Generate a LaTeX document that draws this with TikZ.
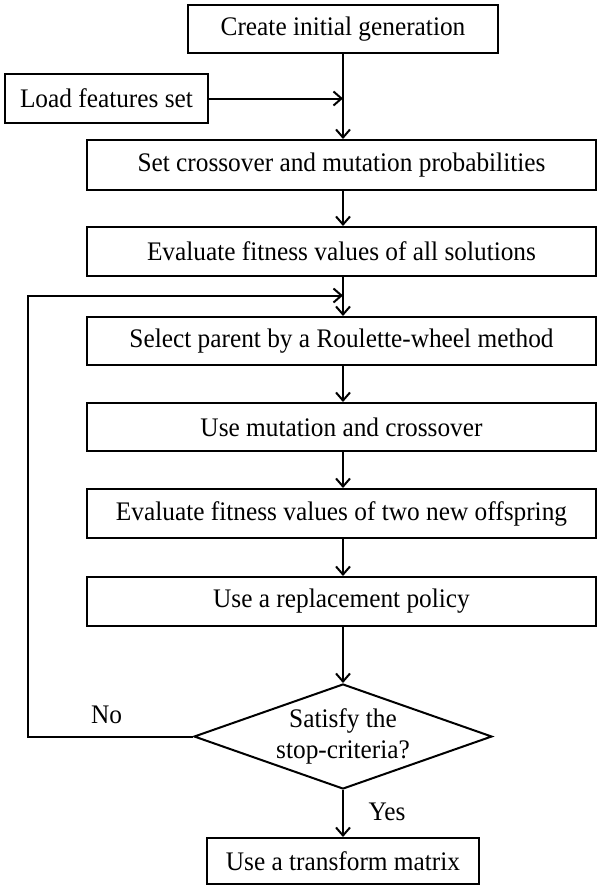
\documentclass[tikz,border=0pt]{standalone}
\usepackage{fontspec}
\setmainfont{Liberation Serif}[FakeStretch=0.945]
\usetikzlibrary{arrows.meta,shapes.geometric}
\begin{document}
\begin{tikzpicture}[x=1pt,y=1pt,
  box/.style={draw, line width=2pt, inner sep=0pt, font=\fontsize{26.8pt}{31pt}\selectfont},
  arr/.style={line width=2pt, line join=miter, -{Straight Barb[length=8pt,width=14pt]}},
  lbl/.style={inner sep=0pt, font=\fontsize{26.8pt}{31pt}\selectfont}]
\useasboundingbox (0,0) rectangle (597,-886);
\node[box, minimum width=310pt, minimum height=48pt] (create) at (343,-29) {Create initial generation};
\node[box, minimum width=203pt, minimum height=49pt] (load) at (106.5,-98.5) {Load features set};
\node[box, minimum width=509pt, minimum height=50pt] (set) at (341.5,-165) {Set crossover and mutation probabilities};
\node[box, minimum width=509pt, minimum height=49pt] (eval) at (341.5,-251.5) {Evaluate fitness values of all solutions};
\node[box, minimum width=509pt, minimum height=48pt] (select) at (341.5,-341) {Select parent by a Roulette-wheel method};
\node[box, minimum width=509pt, minimum height=48pt] (mut) at (341.5,-427) {Use mutation and crossover};
\node[box, minimum width=509pt, minimum height=49pt] (eval2) at (341.5,-513.5) {Evaluate fitness values of two new offspring};
\node[box, minimum width=509pt, minimum height=49pt] (repl) at (341.5,-601.5) {Use a replacement policy};
\node[diamond, draw, line width=2pt, inner sep=0pt, aspect=2.84, minimum width=298pt, minimum height=105pt, align=center, font=\fontsize{26.8pt}{31pt}\selectfont] (stop) at (343,-736.5) {Satisfy the\\stop-criteria?};
\node[box, minimum width=272pt, minimum height=46pt] (trans) at (343,-861) {Use a transform matrix};
\coordinate (j1) at (create |- load);
\coordinate (j2) at (343,-295.5);
\coordinate (c1) at (28,-736.5);
\coordinate (c2) at (28,-295.5);
\draw[arr] (create.south) -- (create.south |- set.north);
\draw[arr] (load.east) -- (j1);
\draw[arr] (set.south -| create) -- (create |- eval.north);
\draw[arr] (eval.south -| create) -- (create |- select.north);
\draw[arr] (select.south -| create) -- (create |- mut.north);
\draw[arr] (mut.south -| create) -- (create |- eval2.north);
\draw[arr] (eval2.south -| create) -- (create |- repl.north);
\draw[arr] (repl.south -| create) -- (stop.north);
\draw[arr] (stop.south) -- (trans.north);
\draw[arr] (stop.west) -- (c1) -- (c2) -- (j2);
\node[lbl] (no) at (106.5,-714.5) {No};
\node[lbl] (yes) at (387,-812) {Yes};
\end{tikzpicture}
\end{document}
